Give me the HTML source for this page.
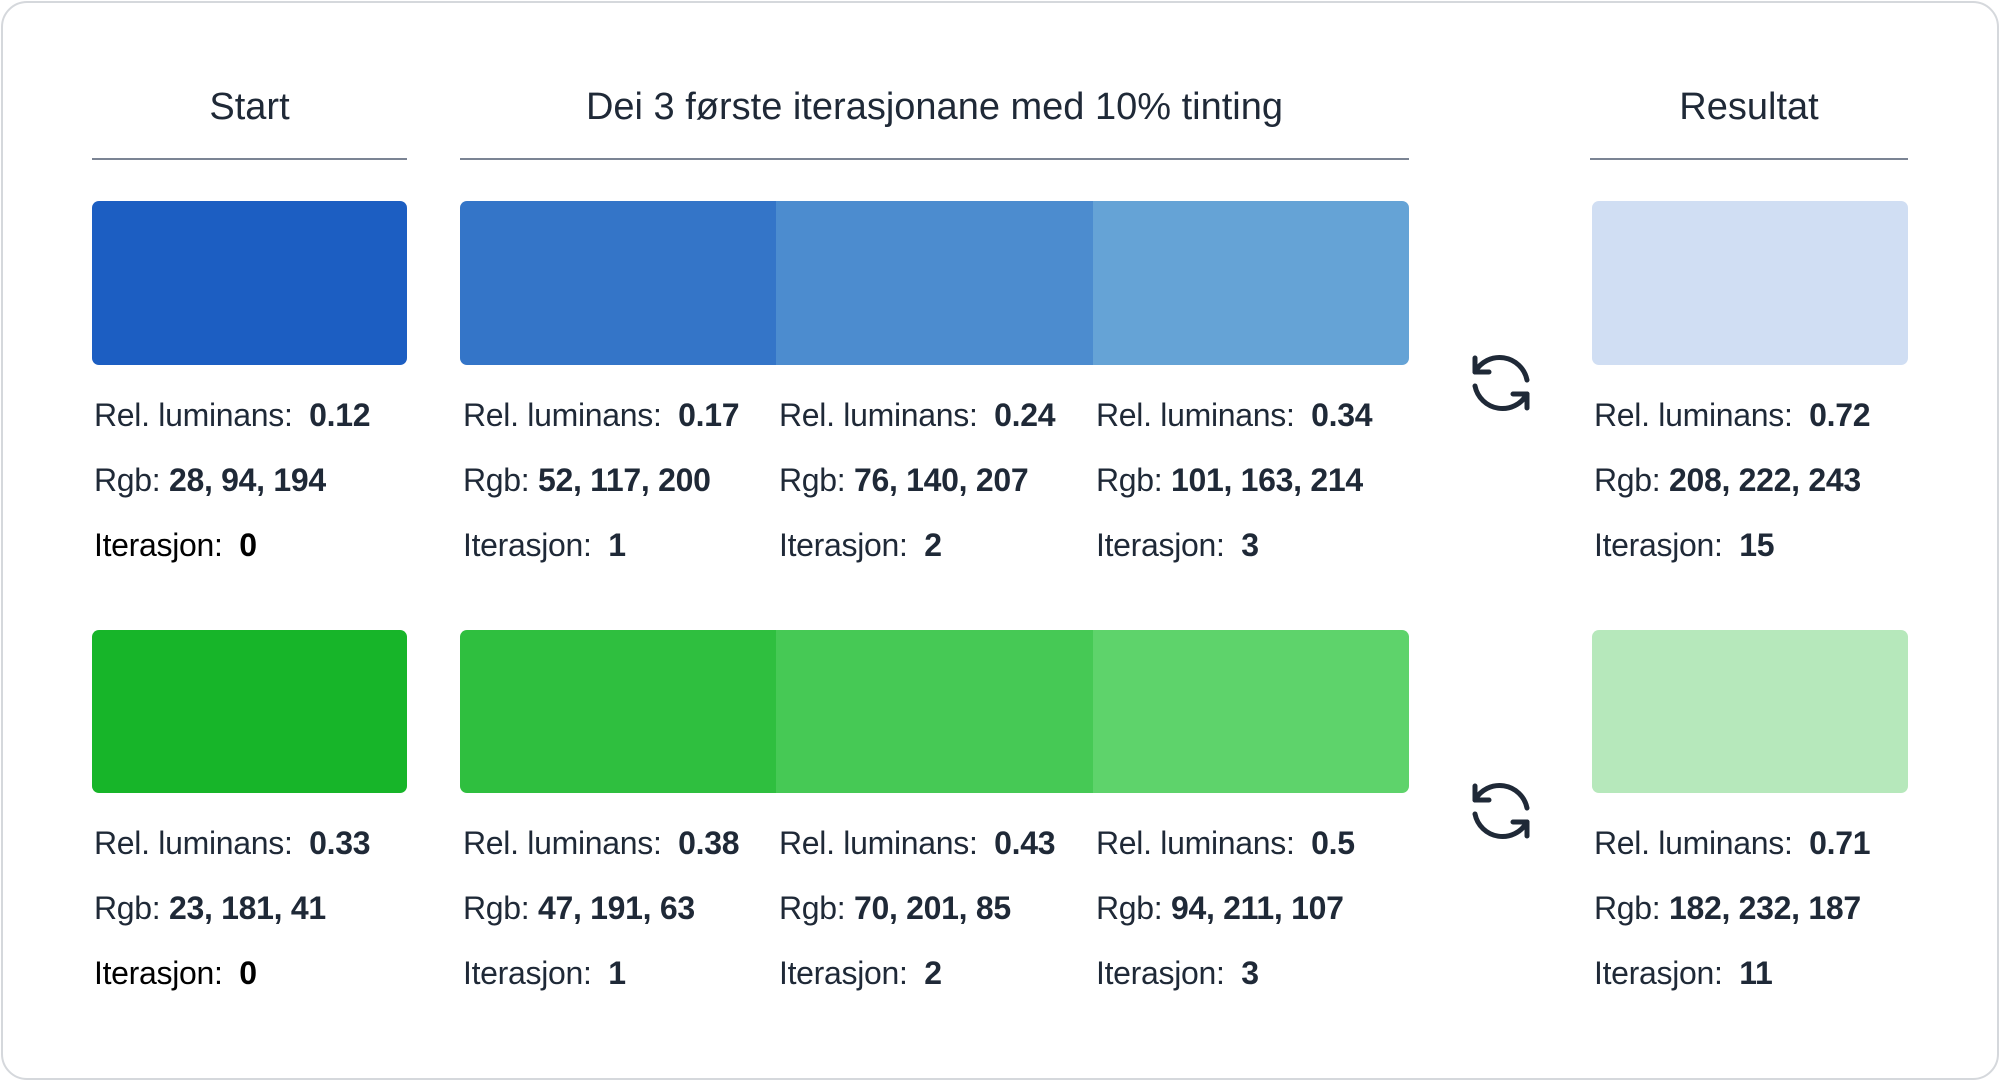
<!DOCTYPE html>
<html><head><meta charset="utf-8"><style>
html,body{margin:0;padding:0;background:#fff;}
body{width:2000px;height:1081px;position:relative;overflow:hidden;font-family:"Liberation Sans",sans-serif;color:#1f2937;}
.card{position:absolute;left:1px;top:1px;width:1994px;height:1075px;border:2px solid #d5d8dc;border-radius:26px;}
.h{position:absolute;font-size:38px;line-height:44px;top:85px;text-align:center;color:#1f2937;}
.ln{position:absolute;top:158px;height:2px;background:#7b8494;}
.b{position:absolute;}
.t{position:absolute;font-size:32px;line-height:36px;white-space:nowrap;letter-spacing:-0.3px;}
.t b{font-weight:700;margin-left:8px;}
.k{color:#000;}
svg{position:absolute;}
</style></head><body>
<div class="card"></div>
<div class="h" style="left:92px;width:315px">Start</div>
<div class="h" style="left:460px;width:949px">Dei 3 første iterasjonane med 10% tinting</div>
<div class="h" style="left:1590px;width:318px">Resultat</div>
<div class="ln" style="left:92px;width:315px"></div>
<div class="ln" style="left:460px;width:949px"></div>
<div class="ln" style="left:1590px;width:318px"></div>

<div class="b" style="left:92px;top:201px;width:315px;height:164px;background:rgb(28,94,194);border-radius:7px"></div>
<div class="b" style="left:460px;top:201px;width:949px;height:164px;border-radius:7px;overflow:hidden;display:flex">
<div style="flex:1;background:rgb(52,117,200)"></div><div style="flex:1;background:rgb(76,140,207)"></div><div style="flex:1;background:rgb(101,163,214)"></div></div>
<div class="b" style="left:1592px;top:201px;width:316px;height:164px;background:rgb(208,222,243);border-radius:7px"></div>

<div class="b" style="left:92px;top:630px;width:315px;height:163px;background:rgb(23,181,41);border-radius:7px"></div>
<div class="b" style="left:460px;top:630px;width:949px;height:163px;border-radius:7px;overflow:hidden;display:flex">
<div style="flex:1;background:rgb(47,191,63)"></div><div style="flex:1;background:rgb(70,201,85)"></div><div style="flex:1;background:rgb(94,211,107)"></div></div>
<div class="b" style="left:1592px;top:630px;width:316px;height:163px;background:rgb(182,232,187);border-radius:7px"></div>

<div class="t" style="left:94px;top:397px">Rel. luminans: <b>0.12</b></div>
<div class="t" style="left:94px;top:462px">Rgb: <b style="margin-left:0">28, 94, 194</b></div>
<div class="t k" style="left:94px;top:527px">Iterasjon: <b>0</b></div>
<div class="t" style="left:463px;top:397px">Rel. luminans: <b>0.17</b></div>
<div class="t" style="left:463px;top:462px">Rgb: <b style="margin-left:0">52, 117, 200</b></div>
<div class="t" style="left:463px;top:527px">Iterasjon: <b>1</b></div>
<div class="t" style="left:779px;top:397px">Rel. luminans: <b>0.24</b></div>
<div class="t" style="left:779px;top:462px">Rgb: <b style="margin-left:0">76, 140, 207</b></div>
<div class="t" style="left:779px;top:527px">Iterasjon: <b>2</b></div>
<div class="t" style="left:1096px;top:397px">Rel. luminans: <b>0.34</b></div>
<div class="t" style="left:1096px;top:462px">Rgb: <b style="margin-left:0">101, 163, 214</b></div>
<div class="t" style="left:1096px;top:527px">Iterasjon: <b>3</b></div>
<div class="t" style="left:1594px;top:397px">Rel. luminans: <b>0.72</b></div>
<div class="t" style="left:1594px;top:462px">Rgb: <b style="margin-left:0">208, 222, 243</b></div>
<div class="t" style="left:1594px;top:527px">Iterasjon: <b>15</b></div>

<div class="t" style="left:94px;top:825px">Rel. luminans: <b>0.33</b></div>
<div class="t" style="left:94px;top:890px">Rgb: <b style="margin-left:0">23, 181, 41</b></div>
<div class="t k" style="left:94px;top:955px">Iterasjon: <b>0</b></div>
<div class="t" style="left:463px;top:825px">Rel. luminans: <b>0.38</b></div>
<div class="t" style="left:463px;top:890px">Rgb: <b style="margin-left:0">47, 191, 63</b></div>
<div class="t" style="left:463px;top:955px">Iterasjon: <b>1</b></div>
<div class="t" style="left:779px;top:825px">Rel. luminans: <b>0.43</b></div>
<div class="t" style="left:779px;top:890px">Rgb: <b style="margin-left:0">70, 201, 85</b></div>
<div class="t" style="left:779px;top:955px">Iterasjon: <b>2</b></div>
<div class="t" style="left:1096px;top:825px">Rel. luminans: <b>0.5</b></div>
<div class="t" style="left:1096px;top:890px">Rgb: <b style="margin-left:0">94, 211, 107</b></div>
<div class="t" style="left:1096px;top:955px">Iterasjon: <b>3</b></div>
<div class="t" style="left:1594px;top:825px">Rel. luminans: <b>0.71</b></div>
<div class="t" style="left:1594px;top:890px">Rgb: <b style="margin-left:0">182, 232, 187</b></div>
<div class="t" style="left:1594px;top:955px">Iterasjon: <b>11</b></div>

<svg style="left:1466px;top:348px" width="70" height="70" viewBox="0 0 70 70" fill="none" stroke="#1f2937" stroke-width="5" stroke-linecap="round" stroke-linejoin="round">
<path d="M9 24 A28 28 0 0 1 61 32"/><path d="M9 10 V24 H23"/>
<path d="M61 46 A28 28 0 0 1 9 38"/><path d="M61 60 V46 H47"/>
</svg>
<svg style="left:1466px;top:776px" width="70" height="70" viewBox="0 0 70 70" fill="none" stroke="#1f2937" stroke-width="5" stroke-linecap="round" stroke-linejoin="round">
<path d="M9 24 A28 28 0 0 1 61 32"/><path d="M9 10 V24 H23"/>
<path d="M61 46 A28 28 0 0 1 9 38"/><path d="M61 60 V46 H47"/>
</svg>
</body></html>
